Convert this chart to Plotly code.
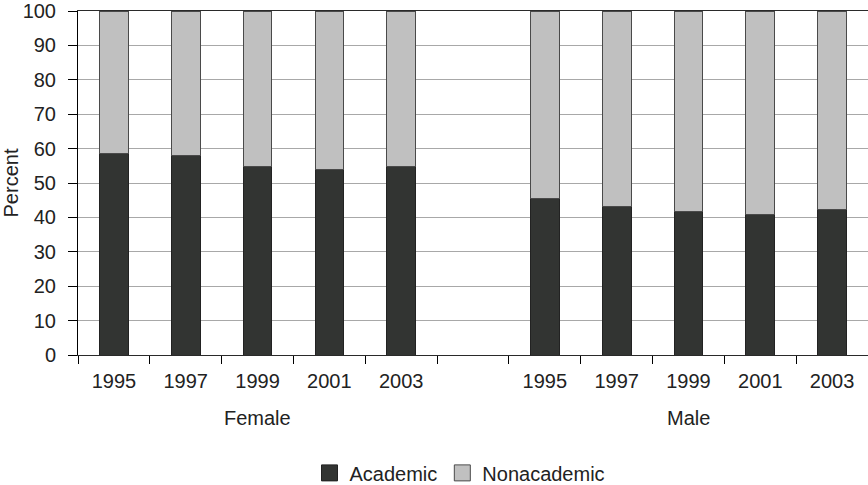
import plotly.graph_objects as go

years = ["1995", "1997", "1999", "2001", "2003"]
groups = ["Female", "Male"]
female_academic = [58.6, 57.9, 54.8, 54.0, 54.8]
male_academic = [45.5, 43.2, 41.7, 40.9, 42.3]

female_non = [100 - v for v in female_academic]
male_non = [100 - v for v in male_academic]

# positions: female 0..4, gap at 5, male 6..10
n = len(years)
pos_f = list(range(n))
pos_m = [n + 1 + i for i in range(n)]
xpos = pos_f + pos_m
academic = female_academic + male_academic
nonacademic = female_non + male_non

FONT = "Liberation Sans, Arial, sans-serif"
DARK = "#323432"
LIGHT = "#c0c0c0"
FS = 20

fig = go.Figure()
fig.add_trace(go.Bar(x=xpos, y=academic, name="Academic", showlegend=False,
                     marker=dict(color=DARK, line=dict(color="#222222", width=1)), width=0.4))
fig.add_trace(go.Bar(x=xpos, y=nonacademic, name="Nonacademic", showlegend=False,
                     marker=dict(color=LIGHT, line=dict(color="#4a4a4a", width=1)), width=0.4))
# legend entries (square swatches)
fig.add_trace(go.Scatter(x=[None], y=[None], mode="markers", name="Academic",
                         marker=dict(symbol="square", size=16, color=DARK, line=dict(color="#222222", width=1))))
fig.add_trace(go.Scatter(x=[None], y=[None], mode="markers", name="Nonacademic",
                         marker=dict(symbol="square", size=16, color=LIGHT, line=dict(color="#4a4a4a", width=1))))

fig.update_layout(
    barmode="stack",
    width=868, height=485,
    margin=dict(l=78, r=0, t=11, b=130, autoexpand=False),
    paper_bgcolor="white", plot_bgcolor="white",
    font=dict(family=FONT, size=FS, color="#222222"),
    showlegend=True,
    legend=dict(orientation="h", x=(460 - 78) / 790, xanchor="center",
                yref="container", y=0.025, yanchor="middle",
                traceorder="normal", font=dict(size=FS), tracegroupgap=0, itemwidth=30),
)
fig.update_xaxes(
    range=[-0.5, 2 * n + 0.5], automargin=False,
    tickmode="array", tickvals=xpos, ticktext=years + years,
    ticks="", showgrid=False, zeroline=False,
    showline=True, linecolor="#2a2a2a", linewidth=1, mirror=True,
    minor=dict(ticks="outside", tick0=-0.5, dtick=1, ticklen=8, tickcolor="#000000", showgrid=False),
    tickfont=dict(size=FS), ticklabelstandoff=8,
)
fig.update_yaxes(
    range=[0, 100], dtick=10, ticks="outside", ticklen=9, tickcolor="#000000", automargin=False,
    showline=True, linecolor="#000000", linewidth=1,
    showgrid=True, gridcolor="#a8a8a8", gridwidth=1, zeroline=False,
    title=dict(text="Percent", font=dict(size=FS), standoff=8),
    tickfont=dict(size=FS), ticklabelstandoff=8,
)

for g, p in zip(groups, [pos_f, pos_m]):
    fig.add_annotation(x=(p[0] + p[-1]) / 2, xref="x", y=-0.183, yref="paper",
                       text=g, showarrow=False, font=dict(size=FS), yanchor="middle")

fig.write_html("out.html", config={"displayModeBar": False},
               post_script="document.body.style.margin='0';")
